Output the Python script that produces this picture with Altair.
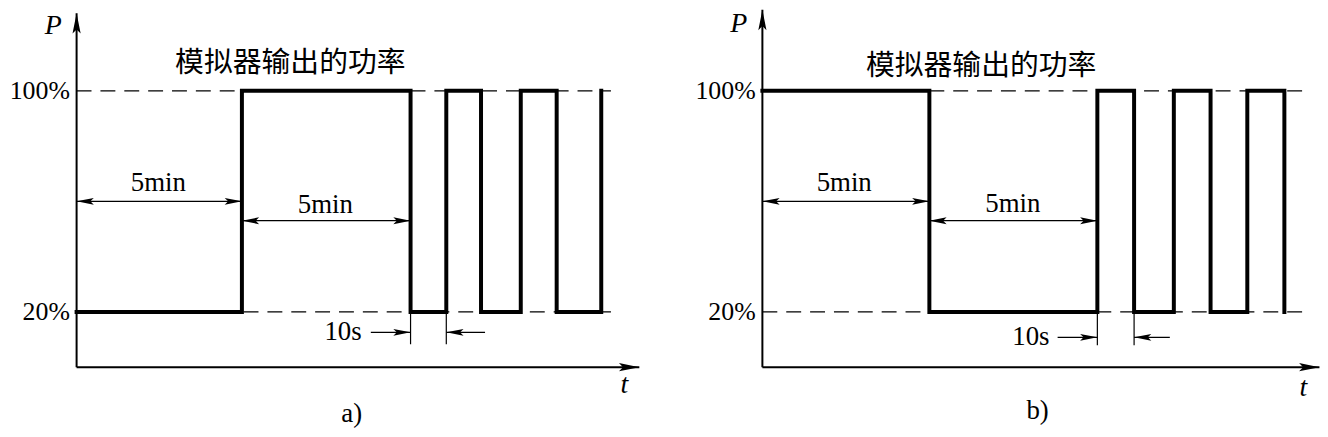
import altair as alt
import pandas as pd

# ---------------- data (schematic time units, P in %) ----------------
TITLE = "模拟器输出的功率"
LEVELS = [100, 20]
LEVEL_LABELS = ["100%", "20%"]

# panel a) : switching instants and power level after each instant
edges_a = [0, 4.95, 10.0, 11.07, 12.11, 13.30, 14.375, 15.71]
levels_a = [20, 100, 20, 100, 20, 100, 20, 100]
# panel b)
edges_b = [0, 5.0, 10.03, 11.13, 12.32, 13.42, 14.52, 15.63]
levels_b = [100, 20, 100, 20, 100, 20, 100, 20]

# "5min" dimension spans: start, end, height
spans_a = [[0, 4.95, 60.0], [4.95, 10.0, 53.0]]
spans_b = [[0, 5.0, 60.0], [5.0, 10.03, 53.0]]
span_text = ["5min", "5min"]
span_label_pos_a = [[2.45, 66.5], [7.45, 58.8]]
span_label_pos_b = [[2.45, 66.8], [7.5, 59.0]]

# "10s" dimension: the two instants, arrow height, extension bottom, arrow tails
tens_a = {"t": [10.0, 11.07], "y": 12.6, "ext": 8.3, "tails": [8.81, 12.23], "label": [7.98, 12.6]}
tens_b = {"t": [10.03, 11.13], "y": 10.8, "ext": 7.9, "tails": [8.84, 12.2], "label": [8.04, 11.0]}

WIDTH = 1320
HEIGHT = 421
PX_PER_UNIT = 33.6
YDOM = [-21.9, 129.5]

panels = [
    dict(edges=edges_a, levels=levels_a, spans=spans_a, span_pos=span_label_pos_a, tens=tens_a,
         x_start=-2.054, guide_end=16.0, xaxis_end=16.85, yaxis_top=128.1,
         title=[6.4, 110.0], P=[-0.7, 123.5], t=[16.4, -6.3], cap=[8.24, -17.0], cap_text="a)"),
    dict(edges=edges_b, levels=levels_b, spans=spans_b, span_pos=span_label_pos_b, tens=tens_b,
         x_start=-22.589, guide_end=16.22, xaxis_end=16.68, yaxis_top=129.3,
         title=[6.55, 109.0], P=[-0.71, 124.1], t=[16.2, -7.6], cap=[8.24, -15.8], cap_text="b)"),
]

SERIF = "Liberation Serif, Times New Roman, serif"
CJK = "Noto Sans CJK SC"
ARROW = "M0,0L0.4,2L0,1.6L-0.4,2Z"   # arrow head, tip at origin, pointing up


def panel(p):
    xs = alt.Scale(domain=[p["x_start"], p["x_start"] + WIDTH / PX_PER_UNIT], nice=False, zero=False)
    ys = alt.Scale(domain=YDOM, nice=False, zero=False)

    def X(f):
        return alt.X(f, type="quantitative", scale=xs, axis=None)

    def Y(f):
        return alt.Y(f, type="quantitative", scale=ys, axis=None)

    guides = pd.DataFrame({"x0": [0, 0], "x1": [p["guide_end"]] * 2, "y": LEVELS})
    g = alt.Chart(guides).mark_rule(color="black", strokeWidth=1.3, strokeDash=[15, 9]).encode(
        x=X("x0"), x2="x1", y=Y("y"))

    wave = pd.DataFrame({"t": p["edges"], "P": p["levels"], "o": list(range(len(p["edges"])))})
    w = alt.Chart(wave).mark_line(color="black", strokeWidth=4, interpolate="step-after",
                                  strokeJoin="miter", strokeCap="square").encode(
        x=X("t"), y=Y("P"), order="o:Q")

    axes = pd.DataFrame({"x0": [0, 0], "x1": [p["xaxis_end"], 0], "y0": [0, 0], "y1": [0, p["yaxis_top"]]})
    ax = alt.Chart(axes).mark_rule(color="black", strokeWidth=2).encode(
        x=X("x0"), x2="x1", y=Y("y0"), y2="y1")
    heads_ax = pd.DataFrame({"x": [p["xaxis_end"], 0], "y": [0, p["yaxis_top"]], "a": [90, 0]})
    hax = alt.Chart(heads_ax).mark_point(shape=ARROW, filled=True, color="black", size=420,
                                         opacity=1, strokeWidth=0).encode(
        x=X("x"), y=Y("y"), angle=alt.Angle("a:Q", scale=None))

    sp = pd.DataFrame(p["spans"], columns=["x0", "x1", "y"])
    dl = alt.Chart(sp).mark_rule(color="black", strokeWidth=1.2).encode(x=X("x0"), x2="x1", y=Y("y"))
    hx, hy, ha = [], [], []
    for s0, s1, yy in p["spans"]:
        hx += [s0, s1]
        hy += [yy, yy]
        ha += [270, 90]
    tn = p["tens"]
    ext = pd.DataFrame({"x": tn["t"], "y0": [20, 20], "y1": [tn["ext"]] * 2})
    el = alt.Chart(ext).mark_rule(color="black", strokeWidth=1.2).encode(x=X("x"), y=Y("y0"), y2="y1")
    lead = pd.DataFrame({"x0": tn["tails"], "x1": tn["t"], "y": [tn["y"]] * 2})
    ll = alt.Chart(lead).mark_rule(color="black", strokeWidth=1.2).encode(x=X("x0"), x2="x1", y=Y("y"))
    hx += tn["t"]
    hy += [tn["y"]] * 2
    ha += [90, 270]
    heads = pd.DataFrame({"x": hx, "y": hy, "a": ha})
    hd = alt.Chart(heads).mark_point(shape=ARROW, filled=True, color="black", size=300,
                                     opacity=1, strokeWidth=0).encode(
        x=X("x"), y=Y("y"), angle=alt.Angle("a:Q", scale=None))

    lv = pd.DataFrame({"x": [-0.2, -0.2], "y": LEVELS, "txt": LEVEL_LABELS})
    tl = alt.Chart(lv).mark_text(font=SERIF, fontSize=26, align="right", baseline="middle",
                                 color="black").encode(x=X("x"), y=Y("y"), text="txt:N")
    lab = pd.DataFrame({
        "x": [q[0] for q in p["span_pos"]] + [tn["label"][0], p["cap"][0]],
        "y": [q[1] for q in p["span_pos"]] + [tn["label"][1], p["cap"][1]],
        "txt": span_text + ["10s", p["cap_text"]],
    })
    tx = alt.Chart(lab).mark_text(font=SERIF, fontSize=27, align="center", baseline="middle",
                                  color="black").encode(x=X("x"), y=Y("y"), text="txt:N")
    it = pd.DataFrame({"x": [p["P"][0], p["t"][0]], "y": [p["P"][1], p["t"][1]], "txt": ["P", "t"]})
    ti = alt.Chart(it).mark_text(font=SERIF, fontSize=28, fontStyle="italic", align="center",
                                 baseline="middle", color="black").encode(x=X("x"), y=Y("y"), text="txt:N")
    tt = pd.DataFrame({"x": [p["title"][0]], "y": [p["title"][1]], "txt": [TITLE]})
    tc = alt.Chart(tt).mark_text(font=CJK, fontSize=29, align="center", baseline="middle",
                                 color="black").encode(x=X("x"), y=Y("y"), text="txt:N")

    return alt.layer(g, w, ax, hax, dl, el, ll, hd, tl, tx, ti, tc)


chart = alt.layer(*[panel(p) for p in panels]).resolve_scale(
    x="independent", y="shared").properties(
    width=WIDTH, height=HEIGHT,
    autosize=alt.AutoSizeParams(type="none"), padding=0, background="white"
).configure_view(stroke=None)

chart.save("out.html", embed_options={"renderer": "svg", "actions": False})
